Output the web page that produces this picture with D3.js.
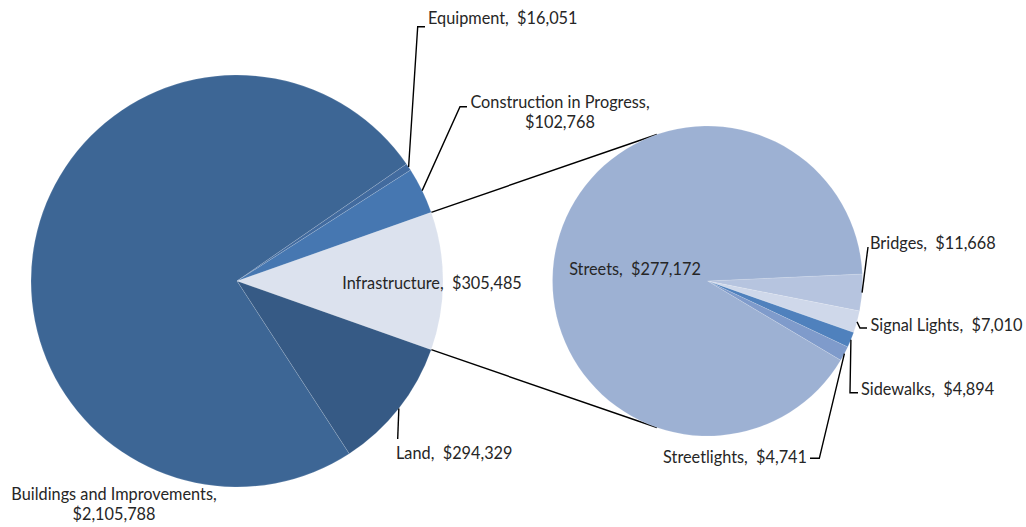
<!DOCTYPE html>
<html>
<head>
<meta charset="utf-8">
<script src="https://cdn.jsdelivr.net/npm/d3@7"></script>
<style>
  body { margin: 0; background: #fff; }
  svg { display: block; }
</style>
</head>
<body>
<svg></svg>
<script>
// datos del grafico principal (orden en sentido horario desde Infrastructure)
var mainLabels = ["Infrastructure", "Land", "Buildings and Improvements", "Equipment", "Construction in Progress"];
var mainValues = [305485, 294329, 2105788, 16051, 102768];
var mainColors = ["#dce2ee", "#365a85", "#3d6695", "#426b9f", "#4677b1"];

// desglose de Infrastructure (segundo grafico)
var subLabels = ["Bridges", "Signal Lights", "Sidewalks", "Streetlights", "Streets"];
var subValues = [11668, 7010, 4894, 4741, 277172];
var subColors = ["#b6c4df", "#cfd8ea", "#4f81bd", "#7f9bcb", "#9db1d3"];

var width = 1026, height = 527;
var c1 = { x: 237, y: 281, r: 206 },
    c2 = { x: 707.5, y: 281, r: 155 };

var fmt = d3.format("$,");

var svg = d3.select("svg")
    .attr("width", width)
    .attr("height", height)
    .attr("font-family", "Lato, 'Liberation Sans', sans-serif")
    .attr("font-size", "16.3px")
    .attr("fill", "#262626");

// el trozo Infrastructure queda centrado a las 3 en punto
var total = d3.sum(mainValues);
var infraHalf = Math.PI * mainValues[0] / total;

var pie1 = d3.pie().sort(null)
    .startAngle(Math.PI / 2 - infraHalf)
    .endAngle(Math.PI / 2 - infraHalf + 2 * Math.PI);
var pie2 = d3.pie().sort(null)
    .startAngle(87.4 * Math.PI / 180)
    .endAngle(87.4 * Math.PI / 180 + 2 * Math.PI);

var arc1 = d3.arc().innerRadius(0).outerRadius(c1.r);
var arc2 = d3.arc().innerRadius(0).outerRadius(c2.r);

var arcs1 = pie1(mainValues);
var arcs2 = pie2(subValues);

// punto sobre el borde del circulo para un angulo d3
function edge(c, a, r) {
  return [c.x + (r || c.r) * Math.sin(a), c.y - (r || c.r) * Math.cos(a)];
}

// lineas de union (tangentes al segundo circulo)
function tangent(p, c, sign) {
  var dx = p[0] - c.x, dy = p[1] - c.y;
  var d = Math.sqrt(dx * dx + dy * dy);
  var base = Math.atan2(dy, dx);
  var al = Math.acos(c.r / d);
  var t = base + sign * al;
  return [c.x + c.r * Math.cos(t), c.y + c.r * Math.sin(t)];
}
var pTop = edge(c1, arcs1[0].startAngle),
    pBot = edge(c1, arcs1[0].endAngle);
var joins = [[pTop, tangent(pTop, c2, 1)], [pBot, tangent(pBot, c2, -1)]];

svg.selectAll(".join")
    .data(joins)
    .enter().append("line")
    .attr("class", "join")
    .attr("x1", function(d) { return d[0][0]; })
    .attr("y1", function(d) { return d[0][1]; })
    .attr("x2", function(d) { return d[1][0]; })
    .attr("y2", function(d) { return d[1][1]; })
    .attr("stroke", "#000")
    .attr("stroke-width", 1.4);

var g1 = svg.append("g").attr("transform", "translate(" + c1.x + "," + c1.y + ")");
g1.selectAll("path")
    .data(arcs1)
    .enter().append("path")
    .attr("d", arc1)
    .attr("fill", function(d, i) { return mainColors[i]; })
    .attr("stroke", "rgba(255,255,255,0.2)")
    .attr("stroke-width", 0.7);

var g2 = svg.append("g").attr("transform", "translate(" + c2.x + "," + c2.y + ")");
g2.selectAll("path")
    .data(arcs2)
    .enter().append("path")
    .attr("d", arc2)
    .attr("fill", function(d, i) { return subColors[i]; })
    .attr("stroke", "rgba(255,255,255,0.2)")
    .attr("stroke-width", 0.7);

// posicion de las etiquetas: ancla del texto y codos de la linea guia
// pts: puntos de la linea guia despues del borde del trozo
var mainLayout = {
  "Infrastructure":             { x: 432, y: 282, anchor: "middle", lines: 1 },
  "Land":                       { x: 396, y: 452, anchor: "start", lines: 1, pts: [[397.7, 439]] },
  "Buildings and Improvements": { x: 114, y: 493, anchor: "middle", lines: 2 },
  "Equipment":                  { x: 428, y: 17, anchor: "start", lines: 1, pts: [[417.7, 26.7], [425, 26.7]] },
  "Construction in Progress":   { x: 560, y: 101, anchor: "middle", lines: 2, pts: [[460, 106.7], [467, 106.7]] }
};
var subLayout = {
  "Bridges":      { x: 870, y: 242, anchor: "start", lines: 1, pts: [[868, 247]] },
  "Signal Lights":{ x: 870.5, y: 324, anchor: "start", lines: 1, pts: [[860, 328], [867, 328]] },
  "Sidewalks":    { x: 861, y: 388, anchor: "start", lines: 1, pts: [[850, 392.7], [858, 392.7]] },
  "Streetlights": { x: 807, y: 456, anchor: "end", lines: 1, pts: [[819.3, 458.3], [810, 458.3]] },
  "Streets":      { x: 635, y: 268, anchor: "middle", lines: 1 }
};

function drawLabels(arcs, labels, layout, c) {
  arcs.forEach(function(a, i) {
    var lay = layout[labels[i]];
    if (lay.pts) {
      var mid = (a.startAngle + a.endAngle) / 2;
      var pts = [edge(c, mid)].concat(lay.pts);
      svg.append("path")
          .attr("d", d3.line()(pts))
          .attr("fill", "none")
          .attr("stroke", "#000")
          .attr("stroke-width", 1.4);
    }
    var t = svg.append("text")
        .attr("text-anchor", lay.anchor)
        .attr("dominant-baseline", "central");
    if (lay.lines == 2) {
      t.append("tspan").attr("x", lay.x).attr("y", lay.y).text(labels[i] + ",");
      t.append("tspan").attr("x", lay.x).attr("y", lay.y + 20).text(fmt(a.data));
    } else {
      t.attr("x", lay.x).attr("y", lay.y)
        .attr("xml:space", "preserve")
        .text(labels[i] + ",  " + fmt(a.data));
    }
  });
}

drawLabels(arcs1, mainLabels, mainLayout, c1);
drawLabels(arcs2, subLabels, subLayout, c2);
</script>
</body>
</html>
